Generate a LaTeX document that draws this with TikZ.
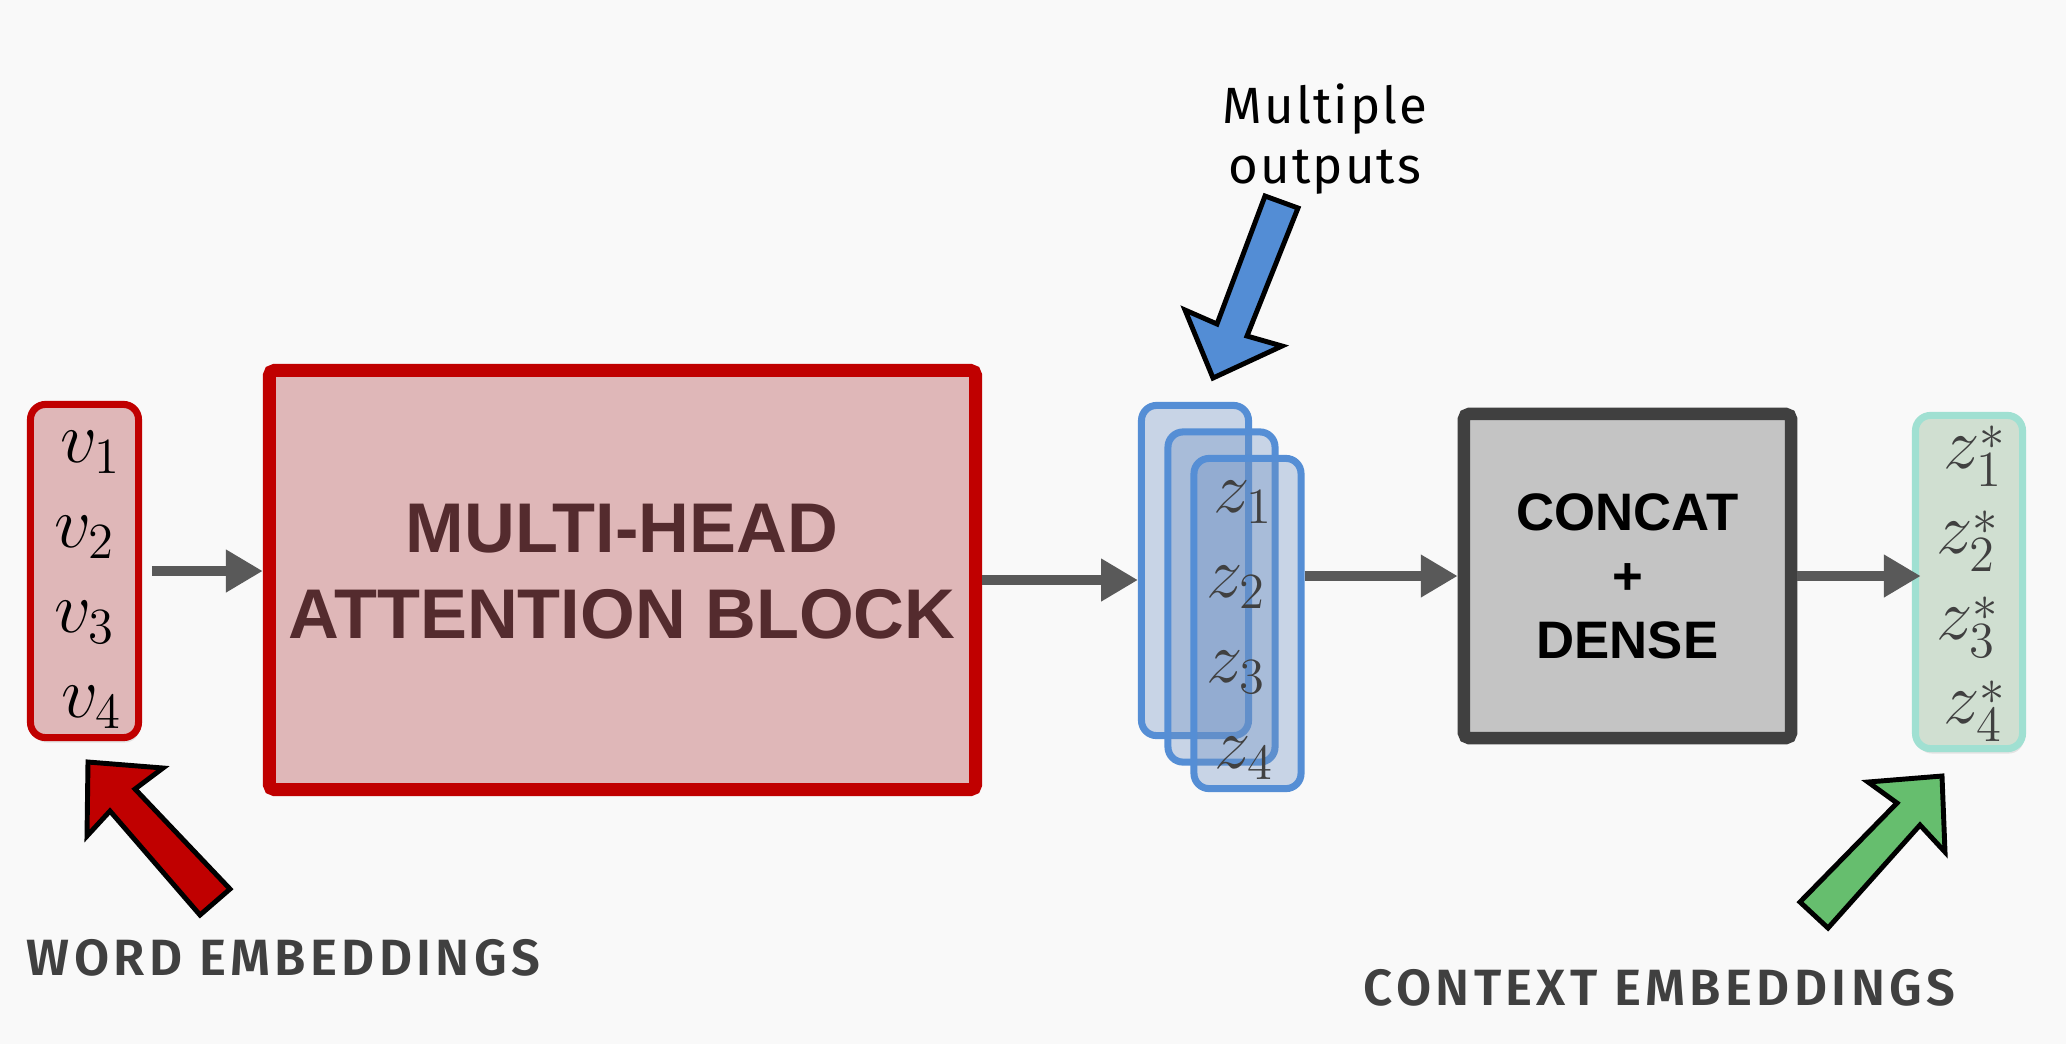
\documentclass[tikz,border=0pt]{standalone}
\usepackage{fontspec}
\usepackage{amsmath}
\usetikzlibrary{arrows.meta,shadows}
\newfontfamily\boxfont{Liberation Sans}
\newfontfamily\notefont[LetterSpace=4]{Fira Sans}
\newfontfamily\capfont[LetterSpace=8.5]{Fira Sans SemiBold}
\newcommand{\lowstar}{\raisebox{-2pt}{$\scriptstyle *$}}
\definecolor{bggray}{RGB}{249,249,249}
\definecolor{mhared}{RGB}{192,0,0}
\definecolor{mhapink}{RGB}{223,183,184}
\definecolor{mhabrown}{RGB}{84,43,46}
\definecolor{zblue}{RGB}{85,142,213}
\definecolor{zfill}{RGB}{110,145,195}
\definecolor{cgray}{RGB}{64,64,64}
\definecolor{cfill}{RGB}{196,196,196}
\definecolor{zsline}{RGB}{160,224,210}
\definecolor{zsfill}{RGB}{208,223,209}
\definecolor{flowgray}{RGB}{89,89,89}
\definecolor{agreen}{RGB}{102,190,110}
\definecolor{ablue}{RGB}{83,141,213}

\begin{document}
\begin{tikzpicture}[x=0.01cm, y=-0.01cm,
	vecbox/.style={draw, rounded corners=4.3pt, line width=2pt, inner sep=0pt},
	bigbox/.style={draw, rounded corners=1.5pt, inner sep=0pt},
	softshadow/.style={drop shadow={opacity=0.18, shadow xshift=0.4pt, shadow yshift=-1.4pt}},
	sym/.style={inner sep=0pt, font=\fontsize{21}{25}\selectfont},
	flow/.style={draw=flowgray, line width=3.1pt, -{Triangle[length=10.5pt,width=11.5pt]}},
	handarrow/.style={draw=black, line width=1.4pt, line join=miter},
	caption/.style={font=\capfont\fontsize{14.5}{17}\selectfont, text=cgray}]
			\fill[bggray] (0,0) rectangle (2066,1044);
			\useasboundingbox (0,0) rectangle (2066,1044);
			
			% word embeddings
			\node[vecbox, softshadow, draw=mhared, fill=mhapink, minimum width=1.08cm, minimum height=3.33cm] (vecs) at (84.5,571) {};
			\node[sym] (v1) at (91,452) {$v_1$};
			\node[sym] (v2) at (85,537) {$v_2$};
			\node[sym] (v3) at (85,622) {$v_3$};
			\node[sym] (v4) at (92,707) {$v_4$};
			
			% attention block
			\node[bigbox, softshadow, draw=mhared, fill=mhapink, line width=3.7pt, minimum width=7.06cm, minimum height=4.19cm] (mha) at (622.5,580) {};
			\node[align=center, text=mhabrown, font=\boxfont\bfseries\fontsize{20}{24.5}\selectfont] (mhatitle) at (622,572) {MULTI-HEAD\\ATTENTION BLOCK};
			
			% heads
			\node[vecbox, draw=zblue, fill=zfill, fill opacity=0.35, minimum width=1.07cm, minimum height=3.3cm] (zA) at (1195,570.5) {};
			\node[vecbox, draw=zblue, fill=zfill, fill opacity=0.35, minimum width=1.07cm, minimum height=3.3cm] (zB) at (1221.5,597) {};
			\node[vecbox, draw=zblue, fill=zfill, fill opacity=0.35, minimum width=1.07cm, minimum height=3.3cm] (zC) at (1247.5,623.5) {};
			\node[sym, text=cgray] (z1) at (1243,502) {$z_1$};
			\node[sym, text=cgray] (z2) at (1236,587) {$z_2$};
			\node[sym, text=cgray] (z3) at (1236,672) {$z_3$};
			\node[sym, text=cgray] (z4) at (1244,758) {$z_4$};
			
			% concat + dense
			\node[bigbox, softshadow, draw=cgray, fill=cfill, line width=3.55pt, minimum width=3.27cm, minimum height=3.24cm] (concat) at (1627.5,576) {};
			\node[align=center, font=\boxfont\bfseries\fontsize{15}{18.2}\selectfont] (concattext) at (1627.5,576.5) {CONCAT\\+\\DENSE};
			
			% context embeddings
			\node[vecbox, softshadow, draw=zsline, fill=zsfill, minimum width=1.07cm, minimum height=3.33cm] (zs) at (1969,582) {};
			\node[sym, text=cgray] (zs1) at (1975,462) {$z_1^{\smash{\lowstar}}$};
			\node[sym, text=cgray] (zs2) at (1968,547) {$z_2^{\smash{\lowstar}}$};
			\node[sym, text=cgray] (zs3) at (1968,633) {$z_3^{\smash{\lowstar}}$};
			\node[sym, text=cgray] (zs4) at (1975,717) {$z_4^{\smash{\lowstar}}$};
			
			\draw[flow, shorten <=2.8pt] (vecs.east) -- (vecs.east -| mha.west);
			\draw[flow] (mha.east) -- (mha.east -| zA.west);
			\draw[flow] (concat.west -| zC.east) -- (concat.west);
			\draw[flow, shorten >=-2.5pt] (concat.east) -- (concat.east -| zs.west);
			
			% notes
			\node[align=center, font=\notefont\fontsize{14.5}{16.8}\selectfont] (multi) at (1325,139) {Multiple\\outputs};
			\node[caption] (wordemb) at (283.5,957.5) {WORD EMBEDDINGS};
			\node[caption] (ctxemb) at (1659.5,987.5) {CONTEXT EMBEDDINGS};
			
			\draw[handarrow, fill=mhared] (88,762) -- (163,768) -- (135,789) -- (230,889) -- (200,915) -- (110,811) -- (87,836) -- cycle;
			\draw[handarrow, fill=ablue] (1213,378) -- (1185,310) -- (1217,324) -- (1265,196) -- (1298,208) -- (1247,336) -- (1282,346) -- cycle;
			\draw[handarrow, fill=agreen] (1942,776) -- (1868,782) -- (1897,803) -- (1800,902) -- (1828,928) -- (1920,825) -- (1945,852) -- cycle;
		\end{tikzpicture}
\end{document}
